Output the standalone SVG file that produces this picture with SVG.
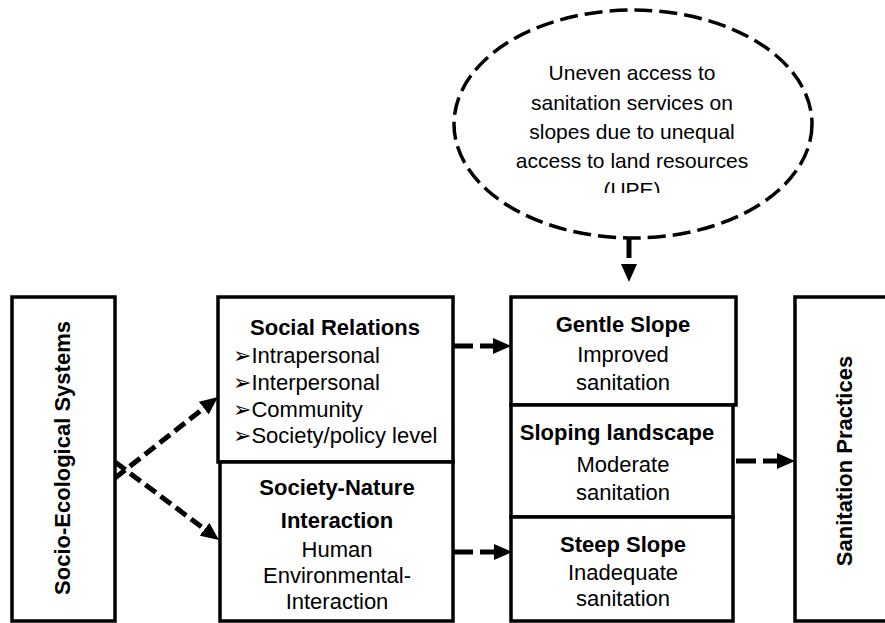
<svg xmlns="http://www.w3.org/2000/svg" width="885" height="623" viewBox="0 0 885 623">
<style>
.box{fill:#fff;stroke:#000;stroke-width:3.5}
.t{font-family:"Liberation Sans","DejaVu Sans",sans-serif;font-size:22px;fill:#000}
.b{font-weight:bold}
.c{text-anchor:middle}
.e{font-family:"Liberation Sans",sans-serif;font-size:21px;fill:#000;text-anchor:middle}
.conn{fill:none;stroke:#000;stroke-width:5;stroke-dasharray:20 7}
.diag{stroke-dasharray:13 6}
</style>
<defs>
<marker id="ah" markerUnits="userSpaceOnUse" markerWidth="18" markerHeight="16" viewBox="0 0 18 16" refX="0" refY="8" orient="auto">
<path d="M0,0 L18,8 L0,16 z" fill="#000"/>
</marker>
<clipPath id="clipE"><rect x="440" y="0" width="400" height="193"/></clipPath>
</defs>

<g id="upe">
<ellipse cx="633" cy="124" rx="179" ry="114" fill="#fff" stroke="#000" stroke-width="3.5" stroke-dasharray="18 7"/>
<g clip-path="url(#clipE)">
<text class="e" x="632" y="80">Uneven access to</text>
<text class="e" x="632" y="110">sanitation services on</text>
<text class="e" x="632" y="139">slopes due to unequal</text>
<text class="e" x="632" y="168">access to land resources</text>
<text class="e" x="632" y="197">(UPE)</text>
</g>
</g>

<g id="socio-ecological">
<rect class="box" x="12" y="297" width="103" height="324"/>
<text class="t b c" transform="translate(70,458) rotate(-90)">Socio-Ecological Systems</text>
</g>

<g id="social-relations">
<rect class="box" x="218" y="297" width="235" height="165"/>
<text class="t b c" x="335" y="335">Social Relations</text>
<text class="t" x="233" y="363">➢Intrapersonal</text>
<text class="t" x="233" y="390">➢Interpersonal</text>
<text class="t" x="233" y="417">➢Community</text>
<text class="t" x="233" y="443">➢Society/policy level</text>
</g>

<g id="society-nature">
<rect class="box" x="220" y="462" width="233" height="159"/>
<text class="t b c" x="337" y="495">Society-Nature</text>
<text class="t b c" x="337" y="528">Interaction</text>
<text class="t c" x="337" y="557">Human</text>
<text class="t c" x="337" y="583">Environmental-</text>
<text class="t c" x="337" y="609">Interaction</text>
</g>

<g id="gentle-slope">
<rect class="box" x="511" y="297" width="225" height="108"/>
<text class="t b c" x="623" y="332">Gentle Slope</text>
<text class="t c" x="623" y="362">Improved</text>
<text class="t c" x="623" y="390">sanitation</text>
</g>

<g id="sloping-landscape">
<rect class="box" x="511" y="405" width="222" height="112"/>
<text class="t b c" x="617" y="440">Sloping landscape</text>
<text class="t c" x="623" y="472">Moderate</text>
<text class="t c" x="623" y="500">sanitation</text>
</g>

<g id="steep-slope">
<rect class="box" x="511" y="517" width="222" height="104"/>
<text class="t b c" x="623" y="552">Steep Slope</text>
<text class="t c" x="623" y="580">Inadequate</text>
<text class="t c" x="623" y="606">sanitation</text>
</g>

<g id="sanitation-practices">
<rect class="box" x="795" y="297" width="100" height="324"/>
<text class="t b c" transform="translate(852,461) rotate(-90)">Sanitation Practices</text>
</g>

<g id="connectors">
<line class="conn" x1="629" y1="238" x2="629" y2="264" marker-end="url(#ah)"/>
<line class="conn diag" x1="115" y1="478" x2="203.8" y2="408.1" marker-end="url(#ah)"/>
<line class="conn diag" x1="115" y1="462" x2="204.6" y2="529.2" marker-end="url(#ah)"/>
<line class="conn" x1="453" y1="346" x2="493" y2="346" marker-end="url(#ah)"/>
<line class="conn" x1="453" y1="552" x2="494" y2="552" marker-end="url(#ah)"/>
<line class="conn" x1="736" y1="461" x2="777" y2="461" marker-end="url(#ah)"/>
</g>
</svg>
